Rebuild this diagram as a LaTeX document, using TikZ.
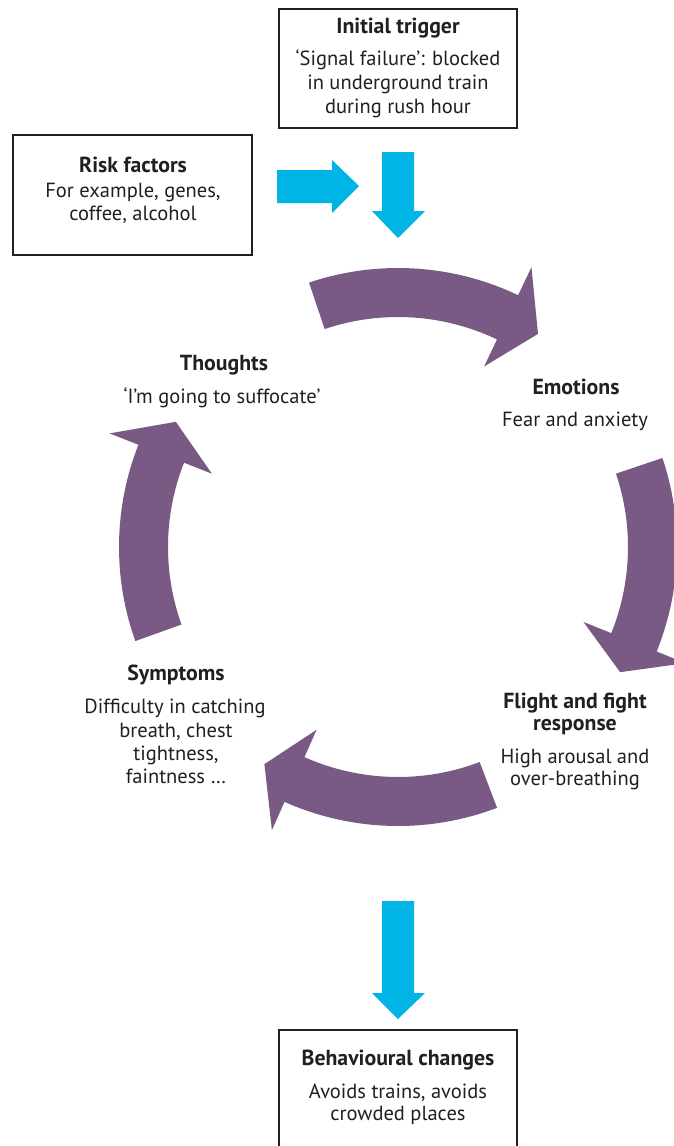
\documentclass[tikz,border=0pt]{standalone}
\usepackage{fontspec}
\setmainfont{PT Sans}
\definecolor{ink}{HTML}{231F20}
\definecolor{plum}{RGB}{120,90,133}
\definecolor{sky}{RGB}{0,181,230}
\newcommand{\plumarrow}[3]{%
  \fill[plum] plot[domain=#1:#2,samples=40] ({398+279*cos(\x)},{547+279*sin(\x)})
    -- ({398+310*cos(#2)},{547+310*sin(#2)})
    -- ({398+255*cos(#3)},{547+255*sin(#3)})
    -- ({398+200*cos(#2)},{547+200*sin(#2)})
    -- plot[domain=#2:#1,samples=40] ({398+230*cos(\x)},{547+230*sin(\x)}) -- cycle;}
\begin{document}
\begin{tikzpicture}[x=1pt,y=-1pt,
  lbl/.style={anchor=base,inner sep=0pt,text=ink,font=\fontsize{20.5}{24}\selectfont},
  ttl/.style={anchor=base,inner sep=0pt,text=ink,font=\bfseries\fontsize{21.8}{24}\selectfont},
  frame/.style={draw=ink,line width=1.6pt,fill=white}]
\useasboundingbox (0,0) rectangle (674,1146);
\fill[white] (0,0) rectangle (674,1146);
% boxes
\draw[frame] (279,9) rectangle (517,128);
\draw[frame] (13,135) rectangle (252,255);
\draw[frame] (279,1030) rectangle (517,1170);
% texts
\node[ttl] (trigT) at (398,33) {Initial trigger};
\node[lbl] (trig1) at (398,65) {‘Signal failure’: blocked};
\node[lbl] (trig2) at (398,89) {in underground train};
\node[lbl] (trig3) at (398,113) {during rush hour};
\node[ttl] (riskT) at (133,172) {Risk factors};
\node[lbl] (risk1) at (133,197) {For example, genes,};
\node[lbl] (risk2) at (133,220) {coffee, alcohol};
\node[ttl] (thoT) at (224,370) {Thoughts};
\node[lbl] (tho1) at (222,403) {‘I’m going to suffocate’};
\node[ttl] (emoT) at (576,394) {Emotions};
\node[lbl] (emo1) at (575,426) {Fear and anxiety};
\node[ttl] (fliT1) at (575,708) {Flight and fight};
\node[ttl] (fliT2) at (575,730) {response};
\node[lbl] (fli1) at (575,763) {High arousal and};
\node[lbl] (fli2) at (575,785) {over-breathing};
\node[ttl] (symT) at (176,680) {Symptoms};
\node[lbl] (sym1) at (175,713) {Difficulty in catching};
\node[lbl] (sym2) at (176,737) {breath, chest};
\node[lbl] (sym3) at (176,760) {tightness,};
\node[lbl] (sym4) at (176,783) {faintness …};
\node[ttl] (behT) at (398,1065) {Behavioural changes};
\node[lbl] (beh1) at (398,1098) {Avoids trains, avoids};
\node[lbl] (beh2) at (398,1120) {crowded places};
% blue arrows
\fill[sky] (277,170) -- (332,170) -- (332,160) -- (359,186) -- (332,213) -- (332,203) -- (277,203) -- cycle;
\fill[sky] (382,152) -- (414,152) -- (414,211) -- (425,211) -- (398,238) -- (372,211) -- (382,211) -- cycle;
\fill[sky] (382,901) -- (414,901) -- (414,993) -- (425,993) -- (398,1019) -- (372,993) -- (382,993) -- cycle;
% purple cycle
\plumarrow{-108.6}{-64.5}{-56.7}
\plumarrow{-18.6}{22}{29.4}
\plumarrow{69.2}{114}{121.6}
\plumarrow{160.3}{201.5}{209.4}
\end{tikzpicture}
\end{document}
